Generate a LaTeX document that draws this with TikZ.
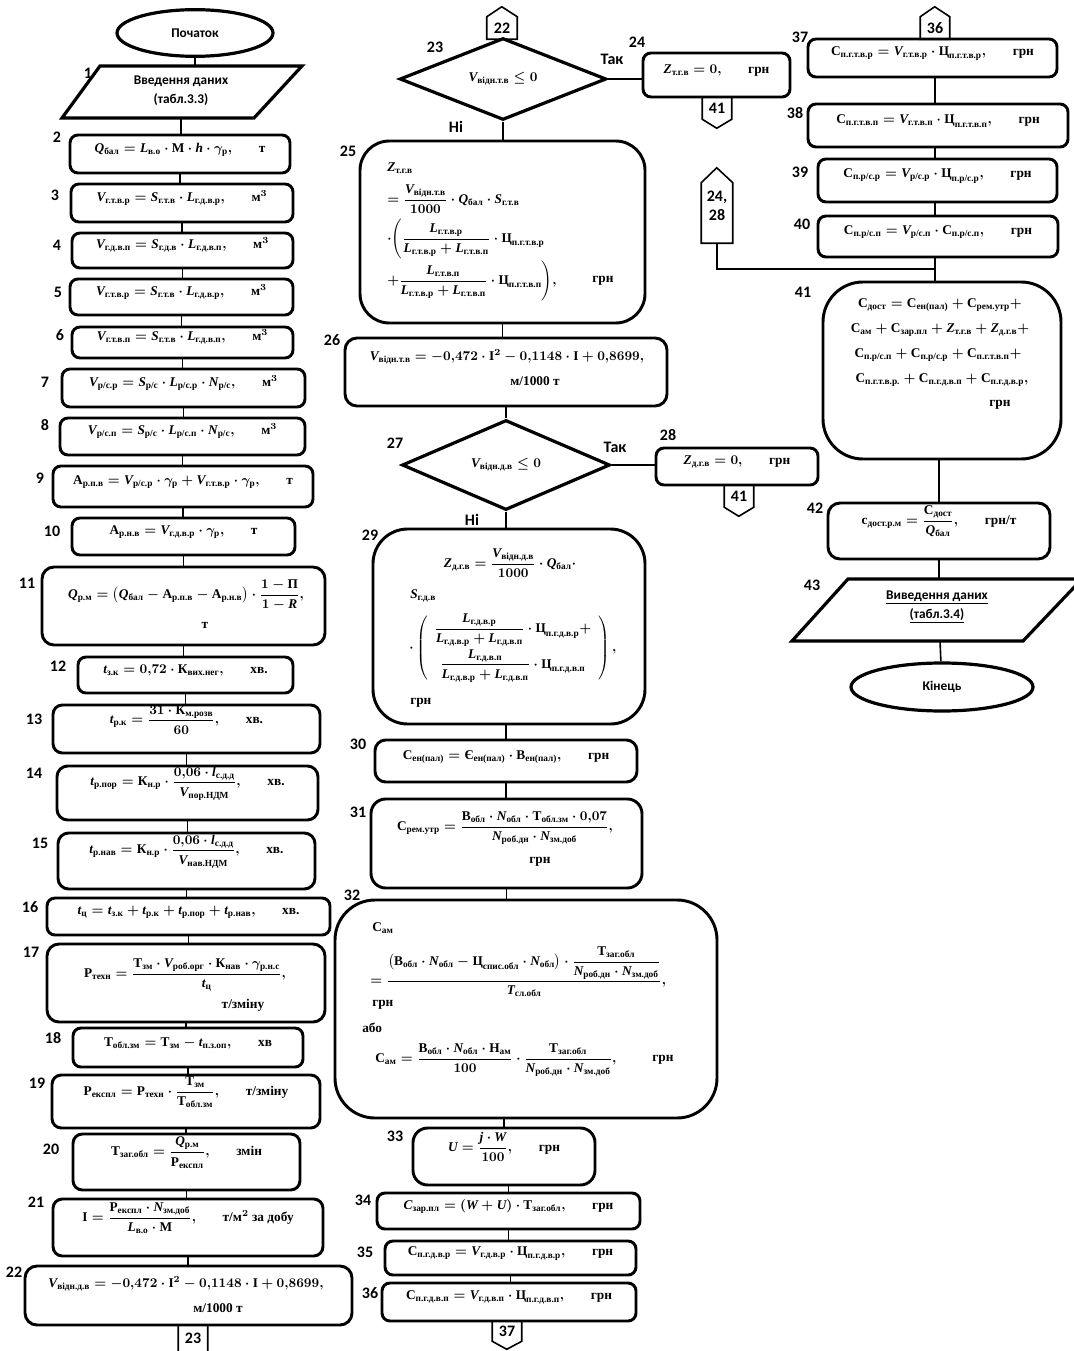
\documentclass[tikz,border=0pt]{standalone}
\usepackage{amsmath}
\usepackage{fontspec}
\setmainfont{Liberation Serif}
\setsansfont{Carlito}
\newfontfamily\lsfam[NFSSFamily=lsf]{Liberation Serif}
\DeclareSymbolFont{lets}{TU}{lsf}{bx}{it}
\DeclareMathSymbol{Q}{\mathalpha}{lets}{`Q}
\DeclareMathSymbol{L}{\mathalpha}{lets}{`L}
\DeclareMathSymbol{h}{\mathalpha}{lets}{`h}
\DeclareMathSymbol{V}{\mathalpha}{lets}{`V}
\DeclareMathSymbol{S}{\mathalpha}{lets}{`S}
\DeclareMathSymbol{N}{\mathalpha}{lets}{`N}
\DeclareMathSymbol{t}{\mathalpha}{lets}{`t}
\DeclareMathSymbol{l}{\mathalpha}{lets}{`l}
\DeclareMathSymbol{Z}{\mathalpha}{lets}{`Z}
\DeclareMathSymbol{U}{\mathalpha}{lets}{`U}
\DeclareMathSymbol{W}{\mathalpha}{lets}{`W}
\DeclareMathSymbol{j}{\mathalpha}{lets}{`j}
\DeclareMathSymbol{R}{\mathalpha}{lets}{`R}
\DeclareMathSymbol{T}{\mathalpha}{lets}{`T}
\DeclareMathSymbol{C}{\mathalpha}{lets}{`C}
\usetikzlibrary{shapes.geometric,fit,calc}
\newcommand{\ct}[1]{\text{#1}}
\newcommand{\mfnt}{\fontsize{10}{12}\selectfont\bfseries\mathversion{bold}}
\newcommand{\lfnt}{\sffamily\bfseries\fontsize{12}{13}\selectfont}
\newcommand{\tfnt}{\sffamily\bfseries\fontsize{10}{12}\selectfont}
\begin{document}
\boldmath
\begin{tikzpicture}[x=0.75pt,y=-0.75pt,
 blk/.style={draw,line width=2.2pt,rounded corners=#1,inner sep=0pt,font=\mfnt,align=center},
 blk/.default=6pt,
 txt/.style={font=\mfnt,inner sep=0pt},
 lbl/.style={font=\lfnt,inner sep=0pt},
 conn/.style={line width=1.2pt},
 kline/.style={line width=1.2pt,line join=miter},
 ktxt/.style={font=\lfnt,inner sep=0pt,align=center},
 term/.style={draw,ellipse,line width=2.4pt,inner sep=0pt,font=\tfnt},
 dec/.style={draw,diamond,line width=2.4pt,inner sep=0pt,font=\mfnt},
 io/.style={line width=2.4pt,line join=miter},
 iotxt/.style={font=\tfnt,inner sep=0pt,align=center}
]
\fill[white] (0,0) rectangle (1073,1351);
\useasboundingbox (0,0) rectangle (1073,1351);

% ===================== LEFT COLUMN =====================
\node[term,minimum width=117pt,minimum height=35pt] (b0) at (195,33) {Початок};
\draw[io] (100,66) -- (302,66) -- (254,118) -- (62,118) -- cycle;
\node[iotxt] (b1) at (181,91) {Введення даних\\[2pt](табл.3.3)};
\coordinate (p1t) at (195,66);
\coordinate (p1b) at (181,118);

\node[blk,fit={(70,135) (290,173)}] (b2) {$Q_{\ct{бал}}=L_{\ct{в.о}}\cdot\ct{М}\cdot h\cdot\gamma_{\ct{р}},$\qquad т};
\node[blk,fit={(71,184) (293,222)}] (b3) {$V_{\ct{г.т.в.р}}=S_{\ct{г.т.в}}\cdot L_{\ct{г.д.в.р}},$\qquad м$^3$};
\node[blk,fit={(72,233) (293,268)}] (b4) {$V_{\ct{г.д.в.п}}=S_{\ct{г.д.в}}\cdot L_{\ct{г.д.в.п}},$\qquad м$^3$};
\node[blk,fit={(70,279) (293,315)}] (b5) {$V_{\ct{г.т.в.р}}=S_{\ct{г.т.в}}\cdot L_{\ct{г.д.в.р}},$\qquad м$^3$};
\node[blk,fit={(72,327) (293,358)}] (b6) {$V_{\ct{г.т.в.п}}=S_{\ct{г.т.в}}\cdot L_{\ct{г.д.в.п}},$\qquad м$^3$};
\node[blk,fit={(62,369) (305,407)}] (b7) {$V_{\ct{р/с.р}}=S_{\ct{р/с}}\cdot L_{\ct{р/с.р}}\cdot N_{\ct{р/с}},$\qquad м$^3$};
\node[blk,fit={(60,418) (305,455)}] (b8) {$V_{\ct{р/с.п}}=S_{\ct{р/с}}\cdot L_{\ct{р/с.п}}\cdot N_{\ct{р/с}},$\qquad м$^3$};
\node[blk,fit={(53,466) (313,507)}] (b9) {$\ct{А}_{\ct{р.п.в}}=V_{\ct{р/с.р}}\cdot\gamma_{\ct{р}}+V_{\ct{г.т.в.р}}\cdot\gamma_{\ct{р}},$\qquad т};
\node[blk,fit={(72,518) (295,555)}] (b10) {$\ct{А}_{\ct{р.н.в}}=V_{\ct{г.д.в.р}}\cdot\gamma_{\ct{р}},$\qquad т};
\node[blk=9pt,fit={(42,567) (325,645)}] (b11) {};
\node[txt] (t11a) at (186,595) {$Q_{\ct{р.м}}=\bigl(Q_{\ct{бал}}-\ct{А}_{\ct{р.п.в}}-\ct{А}_{\ct{р.н.в}}\bigr)\cdot\dfrac{1-\ct{П}}{1-R},$};
\node[txt] (t11b) at (205,625) {т};
\node[blk,fit={(78,657) (293,693)}] (b12) {$t_{\ct{з.к}}=0{,}72\cdot\ct{К}_{\ct{вих.нег}},$\qquad хв.};
\node[blk=7pt,fit={(53,705) (320,753)}] (b13) {$t_{\ct{р.к}}=\dfrac{31\cdot\ct{К}_{\ct{м.розв}}}{60},$\qquad хв.};
\node[blk=8pt,fit={(57,766) (318,820)}] (b14) {$t_{\ct{р.пор}}=\ct{К}_{\ct{н.р}}\cdot\dfrac{0{,}06\cdot l_{\ct{с.д.д}}}{V_{\ct{пор.НДМ}}},$\qquad хв.};
\node[blk=8pt,fit={(58,833) (315,889)}] (b15) {$t_{\ct{р.нав}}=\ct{К}_{\ct{н.р}}\cdot\dfrac{0{,}06\cdot l_{\ct{с.д.д}}}{V_{\ct{нав.НДМ}}},$\qquad хв.};
\node[blk,fit={(47,898) (330,935)}] (b16) {$t_{\ct{ц}}=t_{\ct{з.к}}+t_{\ct{р.к}}+t_{\ct{р.пор}}+t_{\ct{р.нав}},$\qquad хв.};
\node[blk=9pt,fit={(47,944) (325,1022)}] (b17) {};
\node[txt] (t17a) at (185,975) {$\ct{Р}_{\ct{техн}}=\dfrac{\ct{Т}_{\ct{зм}}\cdot V_{\ct{роб.орг}}\cdot\ct{К}_{\ct{нав}}\cdot\gamma_{\ct{р.н.с}}}{t_{\ct{ц}}},$};
\node[txt] (t17b) at (243,1005) {т/зміну};
\node[blk,fit={(73,1028) (303,1067)}] (b18) {$\ct{Т}_{\ct{обл.зм}}=\ct{Т}_{\ct{зм}}-t_{\ct{п.з.оп}},$\qquad хв};
\node[blk=7pt,fit={(52,1075) (320,1128)}] (b19) {$\ct{Р}_{\ct{експл}}=\ct{Р}_{\ct{техн}}\cdot\dfrac{\ct{Т}_{\ct{зм}}}{\ct{Т}_{\ct{обл.зм}}},$\qquad т/зміну};
\node[blk=7pt,fit={(73,1134) (300,1190)}] (b20) {$\ct{Т}_{\ct{заг.обл}}=\dfrac{Q_{\ct{р.м}}}{\ct{Р}_{\ct{експл}}},$\qquad змін};
\node[blk=7pt,fit={(53,1199) (323,1256)}] (b21) {$\ct{І}=\dfrac{\ct{Р}_{\ct{експл}}\cdot N_{\ct{зм.доб}}}{L_{\ct{в.о}}\cdot\ct{М}},$\qquad т/м$^2$ за добу};
\node[blk=9pt,fit={(25,1266) (352,1325)}] (b22) {};
\node[txt] (t22a) at (186,1284) {$V_{\ct{відн.д.в}}=-0{,}472\cdot\ct{І}^2-0{,}1148\cdot\ct{І}+0{,}8699,$};
\node[txt] (t22b) at (218,1308) {м/1000 т};
\node[ktxt,minimum width=21.75pt,minimum height=19.5pt] (k23) at (193,1338) {23};
\draw[kline] (k23.north west) -- (k23.south west) -- ++(6,5);
\draw[kline] (k23.north east) -- (k23.south east) -- ++(-6,5);

\draw[conn] (b0) -- (p1t);
\draw[conn] (p1b) -- (p1b |- b2.north);
\foreach \a/\b in {b2/b3,b3/b4,b4/b5,b5/b6,b6/b7,b7/b8,b8/b9,b9/b10,b10/b11,b11/b12,b12/b13,b13/b14,b14/b15,b15/b16,b16/b17,b17/b18,b18/b19,b19/b20,b20/b21,b21/b22}
  \draw[conn] (\a.south) -- (\a.south |- \b.north);

\foreach \n/\x/\y in {1/88/73,2/57/137,3/55/195,4/57/245,5/58/292,6/60/335,7/45/382,8/45/425,9/40/478,10/52/531,11/27/583,12/58/666,13/34/719,14/34/773,15/40/843,16/30/907,17/31/952,18/53/1038,19/37/1083,20/51/1149,21/36/1202,22/14/1272}
  \node[lbl] (n\n) at (\x,\y) {\n};

% ===================== MIDDLE COLUMN =====================
\node[ktxt,minimum width=22.5pt,minimum height=16.5pt] (k22) at (502,28) {22};
\draw[kline] (k22.south west) -- (k22.north west) -- ++(15,-10) -- (k22.north east) -- (k22.south east) -- cycle;
\node[dec,minimum width=155pt,minimum height=60pt] (d23) at (503,79) {$V_{\ct{відн.т.в}}\le 0$};
\node[blk,fit={(643,53) (790,97)}] (b24) {$Z_{\ct{т.г.в}}=0,$\qquad грн};
\node[ktxt,minimum width=21.75pt,minimum height=16.5pt] (k41a) at (717,108) {41};
\draw[kline] (k41a.north west) -- (k41a.south west) -- ++(14.5,9) -- (k41a.south east) -- (k41a.north east);

\node[blk=22pt,fit={(360,141) (645,323)}] (b25) {};
\node[txt,anchor=west] (t25a) at (387,168) {$Z_{\ct{т.г.в}}$};
\node[txt,anchor=west] (t25b) at (387,199) {$=\dfrac{V_{\ct{відн.т.в}}}{1000}\cdot Q_{\ct{бал}}\cdot S_{\ct{г.т.в}}$};
\node[txt,anchor=west] (t25c) at (387,239) {$\cdot\Biggl(\dfrac{L_{\ct{г.т.в.р}}}{L_{\ct{г.т.в.р}}+L_{\ct{г.т.в.п}}}\cdot\ct{Ц}_{\ct{п.г.т.в.р}}$};
\node[txt,anchor=west] (t25d) at (387,281) {$+\dfrac{L_{\ct{г.т.в.п}}}{L_{\ct{г.т.в.р}}+L_{\ct{г.т.в.п}}}\cdot\ct{Ц}_{\ct{п.г.т.в.п}}\Biggr),$};
\node[txt] (t25e) at (603,281) {грн};

\node[blk=9pt,fit={(345,338) (667,406)}] (b26) {};
\node[txt] (t26a) at (507,357) {$V_{\ct{відн.т.в}}=-0{,}472\cdot\ct{І}^2-0{,}1148\cdot\ct{І}+0{,}8699,$};
\node[txt] (t26b) at (535,381) {м/1000 т};

\node[dec,minimum width=156pt,minimum height=67.5pt] (d27) at (506,465) {$V_{\ct{відн.д.в}}\le 0$};
\node[blk,fit={(656,448) (818,485)}] (b28) {$Z_{\ct{д.г.в}}=0,$\qquad грн};
\node[ktxt,minimum width=21.75pt,minimum height=16.5pt] (k41b) at (739,496) {41};
\draw[kline] (k41b.north west) -- (k41b.south west) -- ++(14.5,9) -- (k41b.south east) -- (k41b.north east);

\node[blk=26pt,fit={(373,529) (645,724)}] (b29) {};
\node[txt] (t29a) at (510,563) {$Z_{\ct{д.г.в}}=\dfrac{V_{\ct{відн.д.в}}}{1000}\cdot Q_{\ct{бал}}\cdot$};
\node[txt,anchor=west] (t29b) at (410,596) {$S_{\ct{г.д.в}}$};
\node[txt,anchor=west] (t29c) at (409,648) {$\cdot\left(\begin{array}{c}\dfrac{L_{\ct{г.д.в.р}}}{L_{\ct{г.д.в.р}}+L_{\ct{г.д.в.п}}}\cdot\ct{Ц}_{\ct{п.г.д.в.р}}+\\[9pt]\dfrac{L_{\ct{г.д.в.п}}}{L_{\ct{г.д.в.р}}+L_{\ct{г.д.в.п}}}\cdot\ct{Ц}_{\ct{п.г.д.в.п}}\end{array}\right),$};
\node[txt,anchor=west] (t29d) at (410,703) {грн};

\node[blk=8pt,fit={(375,740) (637,782)}] (b30) {$\ct{С}_{\ct{ен(пал)}}=\ct{Є}_{\ct{ен(пал)}}\cdot\ct{В}_{\ct{ен(пал)}},$\qquad грн};
\node[blk=11pt,fit={(371,799) (642,888)}] (b31) {};
\node[txt] (t31a) at (505,828) {$\ct{С}_{\ct{рем.утр}}=\dfrac{\ct{В}_{\ct{обл}}\cdot N_{\ct{обл}}\cdot\ct{Т}_{\ct{обл.зм}}\cdot 0{,}07}{N_{\ct{роб.дн}}\cdot N_{\ct{зм.доб}}},$};
\node[txt] (t31b) at (540,862) {грн};

\node[blk=30pt,fit={(335,900) (717,1118)}] (b32) {};
\node[txt,anchor=west] (t32a) at (372,928) {$\ct{С}_{\ct{ам}}$};
\node[txt,anchor=west] (t32b) at (370,972) {$=\dfrac{\bigl(\ct{В}_{\ct{обл}}\cdot N_{\ct{обл}}-\ct{Ц}_{\ct{спис.обл}}\cdot N_{\ct{обл}}\bigr)\cdot\dfrac{\ct{Т}_{\ct{заг.обл}}}{N_{\ct{роб.дн}}\cdot N_{\ct{зм.доб}}}}{T_{\ct{сл.обл}}},$};
\node[txt,anchor=west] (t32c) at (372,1005) {грн};
\node[txt,anchor=west] (t32d) at (362,1028) {або};
\node[txt,anchor=west] (t32e) at (375,1060) {$\ct{С}_{\ct{ам}}=\dfrac{\ct{В}_{\ct{обл}}\cdot N_{\ct{обл}}\cdot\ct{Н}_{\ct{ам}}}{100}\cdot\dfrac{\ct{Т}_{\ct{заг.обл}}}{N_{\ct{роб.дн}}\cdot N_{\ct{зм.доб}}},$};
\node[txt] (t32f) at (663,1060) {грн};

\node[blk=11pt,fit={(413,1128) (595,1185)}] (b33) {$U=\dfrac{j\cdot W}{100},$\qquad грн};
\node[blk,fit={(377,1193) (640,1229)}] (b34) {$C_{\ct{зар.пл}}=(W+U)\cdot\ct{Т}_{\ct{заг.обл}},$\qquad грн};
\node[blk,fit={(385,1241) (636,1275)}] (b35) {$\ct{С}_{\ct{п.г.д.в.р}}=V_{\ct{г.д.в.р}}\cdot\ct{Ц}_{\ct{п.г.д.в.р}},$\qquad грн};
\node[blk,fit={(382,1283) (636,1321)}] (b36) {$\ct{С}_{\ct{п.г.д.в.п}}=V_{\ct{г.д.в.п}}\cdot\ct{Ц}_{\ct{п.г.д.в.п}},$\qquad грн};
\node[ktxt,minimum width=21.75pt,minimum height=15pt] (k37) at (507,1331) {37};
\draw[kline] (k37.north west) -- (k37.south west) -- ++(14.5,8) -- (k37.south east) -- (k37.north east);

\draw[conn] (d23.east) -- (d23.east -| b24.west);
\draw[conn] (d23.south) -- (d23.south |- b25.north);
\draw[conn] (b25.south) -- (b25.south |- b26.north);
\draw[conn] (b26.south) -- (d27.north);
\draw[conn] (d27.east) -- (d27.east -| b28.west);
\draw[conn] (d27.south) -- (d27.south |- b29.north);
\draw[conn] (b30.north |- b29.south) -- (b30.north);
\draw[conn] (b30.south) -- (b30.south |- b31.north);
\draw[conn] (b31.south) -- (b31.south |- b32.north);
\draw[conn] (b33.north |- b32.south) -- (b33.north);
\draw[conn] (b34.north |- b33.south) -- (b34.north);
\draw[conn] (b34.south) -- (b34.south |- b35.north);
\draw[conn] (b35.south) -- (b35.south |- b36.north);

\node[lbl] (y23) at (612,59) {Так};
\node[lbl] (no23) at (456,127) {Ні};
\node[lbl] (y27) at (615,447) {Так};
\node[lbl] (no27) at (472,520) {Ні};
\foreach \n/\x/\y in {23/435/47,24/637/42,25/348/151,26/332/340,27/395/443,28/668/435,29/370/535,30/358/744,31/358/812,32/352/895,33/395/1136,34/363/1200,35/365/1252,36/370/1293}
  \node[lbl] (n\n) at (\x,\y) {\n};

% ===================== RIGHT COLUMN =====================
\coordinate (R) at (935,0);
\node[ktxt,minimum width=21.75pt,minimum height=16.5pt] (k36) at (935,28) {36};
\draw[kline] (k36.south west) -- (k36.north west) -- ++(14.5,-10) -- (k36.north east) -- (k36.south east) -- cycle;
\node[blk,fit={(808,39) (1057,77)}] (b37) {$\ct{С}_{\ct{п.г.т.в.р}}=V_{\ct{г.т.в.р}}\cdot\ct{Ц}_{\ct{п.г.т.в.р}},$\qquad грн};
\node[blk,fit={(808,104) (1068,147)}] (b38) {$\ct{С}_{\ct{п.г.т.в.п}}=V_{\ct{г.т.в.п}}\cdot\ct{Ц}_{\ct{п.г.т.в.п}},$\qquad грн};
\node[blk,fit={(818,159) (1057,202)}] (b39) {$\ct{С}_{\ct{п.р/с.р}}=V_{\ct{р/с.р}}\cdot\ct{Ц}_{\ct{п.р/с.р}},$\qquad грн};
\node[blk,fit={(818,216) (1058,257)}] (b40) {$\ct{С}_{\ct{п.р/с.п}}=V_{\ct{р/с.п}}\cdot\ct{С}_{\ct{п.р/с.п}},$\qquad грн};

\node[minimum width=23.25pt,minimum height=45pt] (k2428) at (717,213) {};
\draw[kline] (k2428.south west) -- (k2428.north west) -- ++(15.5,-15) -- (k2428.north east) -- (k2428.south east) -- cycle;
\node[ktxt] (k2428t) at (717,206) {24,\\[1pt]28};
\coordinate (j41) at (935,269);

\node[blk=30pt,fit={(823,282) (1061,459)}] (b41) {};
\node[txt] (t41a) at (940,305) {$\ct{С}_{\ct{дост}}=\ct{С}_{\ct{ен(пал)}}+\ct{С}_{\ct{рем.утр}}+$};
\node[txt] (t41b) at (940,330) {$\ct{С}_{\ct{ам}}+\ct{С}_{\ct{зар.пл}}+Z_{\ct{т.г.в}}+Z_{\ct{д.г.в}}+$};
\node[txt] (t41c) at (938,355) {$\ct{С}_{\ct{п.р/с.п}}+\ct{С}_{\ct{п.р/с.р}}+\ct{С}_{\ct{п.г.т.в.п}}+$};
\node[txt] (t41d) at (942,380) {$\ct{С}_{\ct{п.г.т.в.р.}}+\ct{С}_{\ct{п.г.д.в.п}}+\ct{С}_{\ct{п.г.д.в.р}},$};
\node[txt] (t41e) at (1000,405) {грн};

\node[blk=9pt,fit={(828,503) (1050,559)}] (b42) {$\ct{с}_{\ct{дост.р.м}}=\dfrac{\ct{С}_{\ct{дост}}}{Q_{\ct{бал}}},$\qquad грн/т};
\draw[io] (848,579) -- (1082,579) -- (1023,641) -- (792,641) -- cycle;
\node[iotxt] (b43) at (937,607) {\underline{Виведення даних}\\[2pt]\underline{(табл.3.4)}};
\coordinate (p43t) at (939,579);
\coordinate (p43b) at (940,641);
\node[term,minimum width=136.5pt,minimum height=36pt] (b44) at (942,687) {Кінець};

\draw[conn] (b37.south -| R) -- (b38.north -| R);
\draw[conn] (b38.south -| R) -- (b39.north -| R);
\draw[conn] (b39.south -| R) -- (b40.north -| R);
\draw[conn] (b40.south -| R) -- (b41.north -| R);
\draw[conn] (k2428.south) |- (j41);
\draw[conn] (b42.north |- b41.south) -- (b42.north);
\draw[conn] (b42.south) -- (b42.south |- p43t);
\draw[conn] (p43b) -- (b44);

\foreach \n/\x/\y in {37/800/37,38/795/113,39/800/172,40/802/224,41/803/292,42/815/508,43/812/585}
  \node[lbl] (n\n) at (\x,\y) {\n};
\end{tikzpicture}
\end{document}
